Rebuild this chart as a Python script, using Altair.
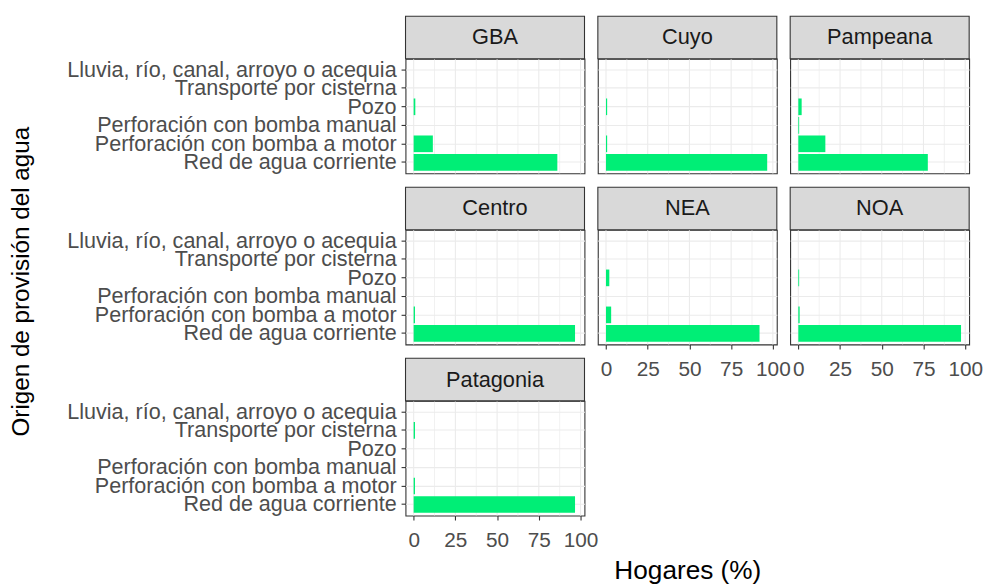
import altair as alt
import pandas as pd

categories = [
    "Lluvia, río, canal, arroyo o acequia",
    "Transporte por cisterna",
    "Pozo",
    "Perforación con bomba manual",
    "Perforación con bomba a motor",
    "Red de agua corriente",
]
regions = ["GBA", "Cuyo", "Pampeana", "Centro", "NEA", "NOA", "Patagonia"]

gba = [0.0, 0.0, 1.0, 0.0, 11.5, 86.1]
cuyo = [0.0, 0.0, 0.7, 0.0, 0.7, 96.6]
pampeana = [0.0, 0.0, 2.0, 0.5, 16.2, 77.6]
centro = [0.0, 0.0, 0.0, 0.0, 0.8, 96.7]
nea = [0.0, 0.0, 2.0, 0.0, 3.1, 92.0]
noa = [0.0, 0.0, 0.5, 0.0, 0.8, 97.5]
patagonia = [0.0, 0.8, 0.0, 0.0, 0.8, 96.7]

region_values = {
    "GBA": gba, "Cuyo": cuyo, "Pampeana": pampeana, "Centro": centro,
    "NEA": nea, "NOA": noa, "Patagonia": patagonia,
}

x_major = [0, 25, 50, 75, 100]
x_minor = [12.5, 37.5, 62.5, 87.5]

FONT = "Liberation Sans"
W, H, SH = 181, 116, 43
GREEN = "#00EE76"
GRID = "#EBEBEB"

x_scale = alt.Scale(domain=[-4.875, 102.375], nice=False, zero=False)
y_scale = alt.Scale(domain=categories, paddingInner=0.1, paddingOuter=0.15)


def make_cell(name, col, bottom):
    vals = region_values[name]
    df = pd.DataFrame({"origen": categories, "pct": vals, "base": [0.0] * len(vals)})
    df = df[df["pct"] > 0]

    if col == 0:
        yargs = dict(
            labelFont=FONT, labelFontSize=21.8, labelColor="#4D4D4D", labelLimit=0,
            labelPadding=5, tickColor="#333333", tickSize=4.5, tickWidth=1.1,
            domain=False, grid=True, gridColor=GRID, gridWidth=1.1,
        )
        if name == "Centro":
            yargs.update(title="Origen de provisión del agua", titleFont=FONT,
                         titleFontSize=24.5, titleFontWeight="normal",
                         titleColor="#000000", titleX=-388, titleY=52,
                         titleBaseline="middle", titleAngle=270)
        else:
            yargs.update(title=None)
        yaxis = alt.Axis(**yargs)
    else:
        yaxis = alt.Axis(title=None, labels=False, ticks=False, domain=False,
                         grid=True, gridColor=GRID, gridWidth=1.1)

    if bottom:
        xargs = dict(
            values=x_major, grid=False, domain=False, labelFont=FONT,
            labelFontSize=21, labelColor="#4D4D4D", labelFlush=False,
            labelOverlap=False, labelPadding=10, tickColor="#333333",
            tickSize=4.5, tickWidth=1.1,
        )
        if name == "NEA":
            xargs.update(title="Hogares (%)", titleFont=FONT, titleFontSize=26.5,
                         titleFontWeight="normal", titleColor="#000000",
                         titleY=216, titleBaseline="top")
        else:
            xargs.update(title=None)
        xaxis = alt.Axis(**xargs)
    else:
        xaxis = None

    gdf = pd.DataFrame({"gx": x_major + x_minor,
                        "kind": ["major"] * len(x_major) + ["minor"] * len(x_minor)})
    rules = alt.Chart(gdf).mark_rule(color=GRID).encode(
        x=alt.X("gx:Q", scale=x_scale, axis=xaxis),
        strokeWidth=alt.StrokeWidth("kind:N", scale=alt.Scale(domain=["major", "minor"], range=[1.1, 0.7]), legend=None),
    )
    bars = alt.Chart(df).mark_bar(color=GREEN).encode(
        x=alt.X("pct:Q", scale=x_scale, axis=xaxis),
        x2="base:Q",
        y=alt.Y("origen:N", scale=y_scale, sort=categories, axis=yaxis),
    )
    sdf = pd.DataFrame({"r": [name]})
    strip_bg = alt.Chart(sdf).mark_rect(
        fill="#D9D9D9", stroke="#333333", strokeWidth=1.1
    ).encode(
        x=alt.value(0), x2=alt.value(W), y=alt.value(-SH), y2=alt.value(0)
    )
    strip_txt = alt.Chart(sdf).mark_text(
        font=FONT, fontSize=22, color="#1A1A1A", baseline="middle", align="center"
    ).encode(
        x=alt.value(W / 2), y=alt.value(-SH / 2), text="r:N"
    )
    return alt.layer(rules, bars, strip_bg, strip_txt).properties(width=W, height=H)


bottoms = {"NEA", "NOA", "Patagonia"}
cells = [make_cell(r, i % 3, r in bottoms) for i, r in enumerate(regions)]

chart = alt.concat(
    *cells, columns=3, spacing={"row": 14 + SH, "column": 13.5}, bounds="flush"
).properties(
    padding={"left": 0, "top": 3, "right": 0, "bottom": 0}
).configure_view(
    stroke="#333333", strokeWidth=1.1
)

chart.save("out.html", embed_options={"renderer": "svg", "actions": False})
